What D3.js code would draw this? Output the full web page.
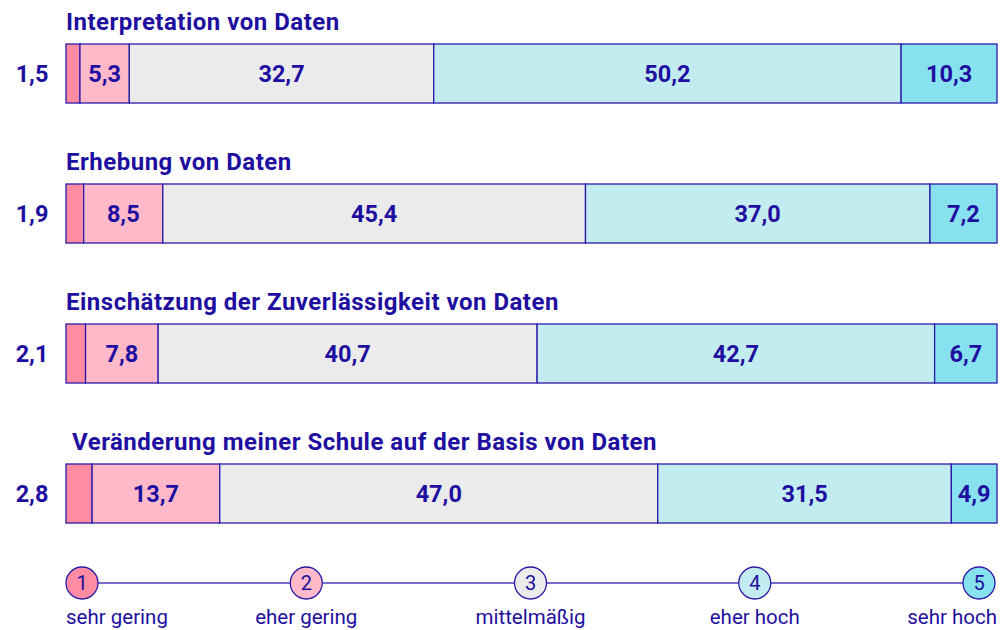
<!DOCTYPE html>
<html>
<head>
<meta charset="utf-8">
<script src="https://cdn.jsdelivr.net/npm/d3@7"></script>
<style>
  body { margin: 0; background: #fff; }
  text { font-family: Roboto, "Noto Sans", sans-serif; fill: #1f0fa0; }
</style>
</head>
<body>
<div id="chart"></div>
<script>
// 1: DATA
const titles = [
    "Interpretation von Daten",
    "Erhebung von Daten",
    "Einschätzung der Zuverlässigkeit von Daten",
    "Veränderung meiner Schule auf der Basis von Daten"
];
const sehrGering = [1.5, 1.9, 2.1, 2.8];
const eherGering = [5.3, 8.5, 7.8, 13.7];
const mittel     = [32.7, 45.4, 40.7, 47.0];
const eherHoch   = [50.2, 37.0, 42.7, 31.5];
const sehrHoch   = [10.3, 7.2, 6.7, 4.9];
const levels = ["sehr gering", "eher gering", "mittelmäßig", "eher hoch", "sehr hoch"];
const colors = ["#ff8ca3", "#ffb9c8", "#ebebeb", "#c3ecf0", "#87e1ef"];

const fmt = v => d3.format(".1f")(v).replace(".", ",");

// 2: SETUP
const W = 1006, H = 630;
const svg = d3.select("#chart").append("svg")
    .attr("width", W).attr("height", H);

const x = d3.scaleLinear().domain([0, 100]).range([66, 997]);
const rowY = d3.scaleLinear().domain([0, 3]).range([44, 464]);
const barH = 59;
const stroke = "#2a1aa8";

const rows = titles.map((t, i) => {
    const vals = [sehrGering[i], eherGering[i], mittel[i], eherHoch[i], sehrHoch[i]];
    const total = d3.sum(vals);
    let acc = 0;
    const segs = vals.map((v, k) => {
        const s = { v, k, x0: acc / total * 100, x1: (acc + v) / total * 100 };
        acc += v;
        return s;
    });
    return { title: t, i, segs };
});

// 3: BARS
const row = svg.selectAll(".row").data(rows).enter().append("g")
    .attr("class", "row")
    .attr("transform", d => `translate(0,${rowY(d.i)})`);

row.append("text")
    .attr("x", d => d.i === 3 ? 72 : 66)
    .attr("y", -14)
    .style("font-size", "24px")
    .style("font-weight", "bold")
    .style("letter-spacing", "0.5px")
    .text(d => d.title);

row.append("text")
    .attr("x", 32)
    .attr("y", barH / 2)
    .attr("dy", "0.35em")
    .attr("text-anchor", "middle")
    .style("font-size", "23.5px")
    .style("font-weight", "bold")
    .text(d => fmt(d.segs[0].v));

row.selectAll("rect").data(d => d.segs).enter().append("rect")
    .attr("x", s => x(s.x0))
    .attr("width", s => x(s.x1) - x(s.x0))
    .attr("y", 0)
    .attr("height", barH)
    .attr("fill", s => colors[s.k])
    .attr("stroke", stroke)
    .attr("stroke-width", 1.3);

row.selectAll(".val").data(d => d.segs.filter(s => s.k > 0)).enter().append("text")
    .attr("class", "val")
    .attr("x", s => (x(s.x0) + x(s.x1)) / 2)
    .attr("y", barH / 2)
    .attr("dy", "0.35em")
    .attr("text-anchor", "middle")
    .style("font-size", "23.5px")
    .style("font-weight", "bold")
    .text(s => fmt(s.v));

// 4: LEGEND
const lx = d3.scaleLinear().domain([0, 4]).range([82, 979]);
const ly = 583;

svg.append("line")
    .attr("x1", lx(0)).attr("x2", lx(4))
    .attr("y1", ly).attr("y2", ly)
    .attr("stroke", "#4a3cb8").attr("stroke-width", 1.5);

const leg = svg.selectAll(".leg").data(levels).enter().append("g")
    .attr("class", "leg")
    .attr("transform", (d, i) => `translate(${lx(i)},${ly})`);

leg.append("circle")
    .attr("r", 16)
    .attr("fill", (d, i) => colors[i])
    .attr("stroke", stroke)
    .attr("stroke-width", 1.3);

leg.append("text")
    .attr("text-anchor", "middle")
    .attr("dy", "0.36em")
    .style("font-size", "20px")
    .text((d, i) => i + 1);

leg.append("text")
    .attr("x", (d, i) => i === 0 ? -16 : i === 4 ? 18 : 0)
    .attr("y", 41)
    .attr("text-anchor", (d, i) => i === 0 ? "start" : i === 4 ? "end" : "middle")
    .style("font-size", "20.5px")
    .text(d => d);
</script>
</body>
</html>
